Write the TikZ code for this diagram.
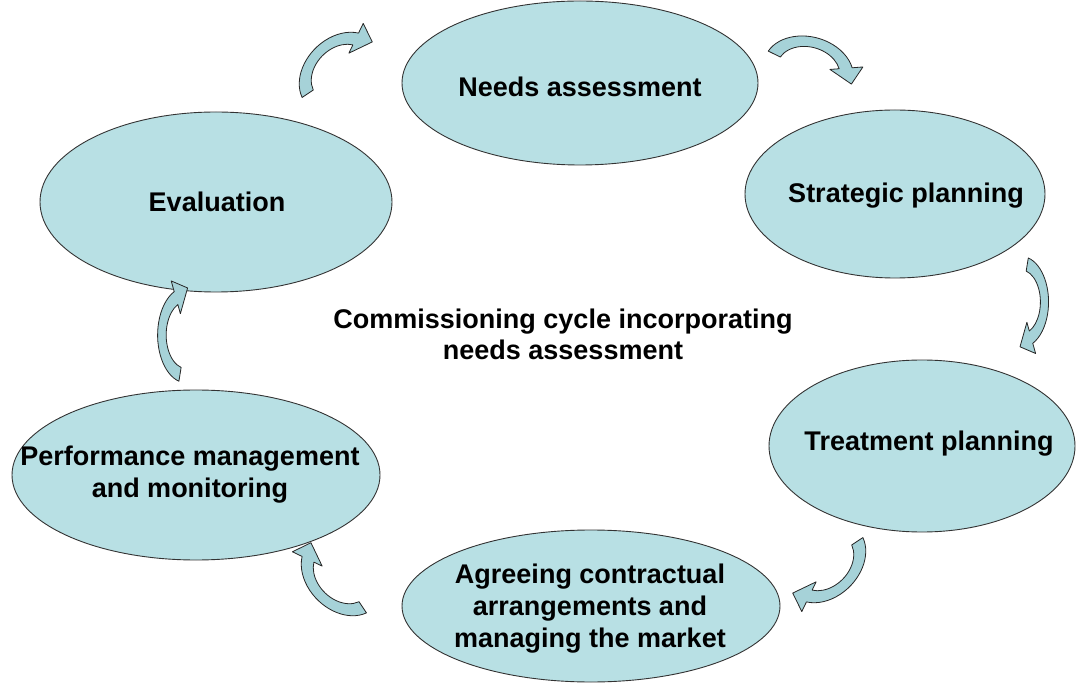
\documentclass[tikz,border=0pt]{standalone}
\usepackage{fontspec}
\setmainfont{Liberation Sans}
\usetikzlibrary{shapes.geometric}
\definecolor{cellfill}{HTML}{B8E0E4}
\definecolor{arrowfill}{HTML}{A6D2D8}
\tikzset{
  cell/.style={ellipse, draw=black!80, line width=0.9pt, fill=cellfill, inner sep=0pt},
  celltext/.style={align=center, inner sep=0pt, font=\fontsize{27}{32}\selectfont\bfseries},
  title/.style={align=center, inner sep=0pt, font=\fontsize{27}{31}\selectfont\bfseries},
  carrow/.pic={
    \filldraw[fill=arrowfill, draw=black!85, line width=0.8pt, line join=round, shift={(0,-0.45)}]
      (165:1.14) arc[start angle=165, end angle=25, radius=1.14]
      -- (25:1.42) -- (1.12,-0.05) -- (25:0.56) -- (25:0.8)
      arc[start angle=25, end angle=165, radius=0.8] -- cycle;
  }
}
\begin{document}
\begin{tikzpicture}[x=1pt,y=1pt]
\useasboundingbox (0,0) rectangle (1078,683);
\node[cell, minimum width=356pt, minimum height=164pt] (needs) at (580,600) {};
\node[cell, minimum width=300pt, minimum height=168pt] (strat) at (895,489) {};
\node[cell, minimum width=306pt, minimum height=172pt] (treat) at (922,237) {};
\node[cell, minimum width=378pt, minimum height=152pt] (agree) at (591,77) {};
\node[cell, minimum width=368pt, minimum height=170pt] (perf) at (196,208) {};
\node[cell, minimum width=352pt, minimum height=180pt] (eval) at (216,481) {};
\node[celltext] (needsT) at (580,596) {Needs assessment};
\node[celltext] (stratT) at (906,487) {Strategic planning};
\node[celltext] (treatT) at (929,239) {Treatment planning};
\node[celltext] (agreeT) at (590,74) {Agreeing contractual\\arrangements and\\managing the market};
\node[celltext] (perfT) at (190,208) {Performance management\\and monitoring};
\node[celltext] (evalT) at (217,481) {Evaluation};
\node[title] (center) at (563,349) {Commissioning cycle incorporating\\needs assessment};
\pic[rotate=45, scale=40, yscale=0.75] at (330,620) {carrow};
\pic[rotate=-15, scale=40, yscale=0.75] at (812,625) {carrow};
\pic[rotate=-90, scale=40, yscale=0.6] at (1032,381) {carrow};
\pic[rotate=-135, scale=40, yscale=0.75] at (835,111) {carrow};
\pic[rotate=135, scale=40, yscale=0.75] at (332,98) {carrow};
\pic[rotate=90, scale=42, yscale=0.6] at (175,348) {carrow};
\end{tikzpicture}
\end{document}
